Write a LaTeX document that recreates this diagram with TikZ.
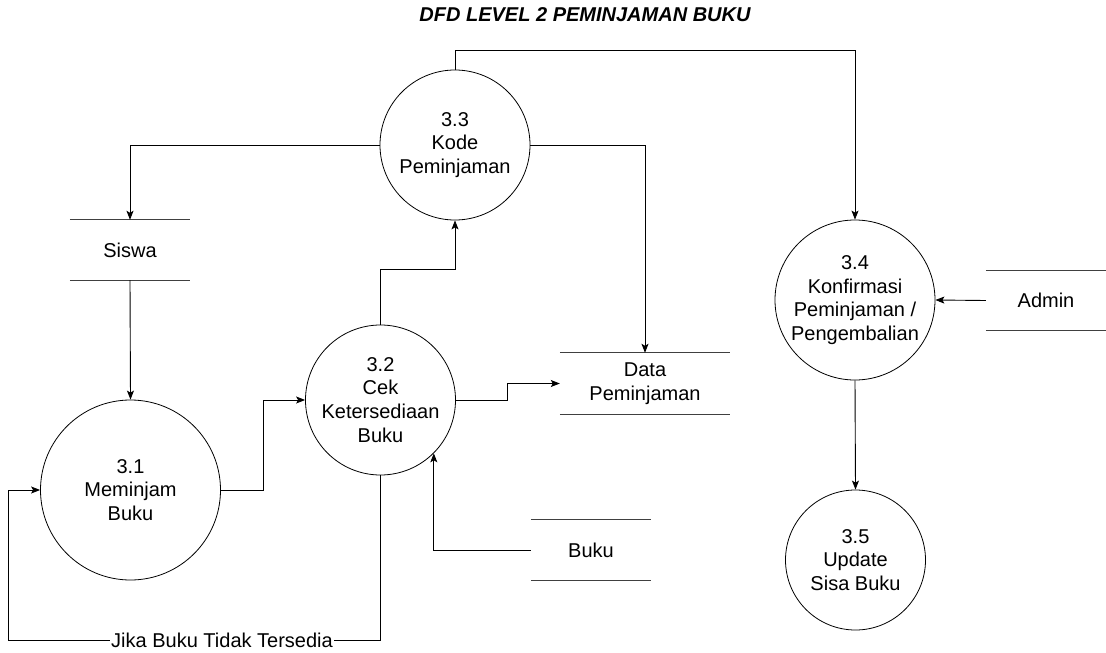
\documentclass[tikz,border=0pt]{standalone}
\usepackage{fontspec}
\setmainfont{Liberation Sans}
\usetikzlibrary{arrows.meta}
\begin{document}
\begin{tikzpicture}[x=1pt,y=-1pt,
  proc/.style={circle,draw=black,line width=0.8pt,inner sep=0pt,align=center,font=\fontsize{20}{23.8}\selectfont},
  store/.style={rectangle,inner sep=0pt,align=center,font=\fontsize{20}{23.8}\selectfont},
  storeline/.style={draw=black!75,line width=1pt},
  flow/.style={line width=0.9pt,-{Stealth[length=9pt,width=7pt,inset=2pt]}},
  lbl/.style={fill=white,inner sep=1pt,font=\fontsize{20}{23.8}\selectfont},
  ttl/.style={font=\fontsize{20}{24}\selectfont\bfseries\itshape}]
\useasboundingbox (0,0) rectangle (1106,653);

\node[ttl] (title) at (585,15) {DFD LEVEL 2 PEMINJAMAN BUKU};

\node[proc,minimum size=150pt] (p33) at (455,145) {3.3\\Kode\\Peminjaman};
\node[proc,minimum size=150pt] (p32) at (380.5,400) {3.2\\Cek\\Ketersediaan\\Buku};
\node[proc,minimum size=180pt] (p31) at (130.5,490) {3.1\\Meminjam\\Buku};
\node[proc,minimum size=160pt] (p34) at (855,300) {3.4\\Konfirmasi\\Peminjaman /\\Pengembalian};
\node[proc,minimum size=140pt] (p35) at (855.5,560) {3.5\\Update\\Sisa Buku};

\node[store,minimum width=120pt,minimum height=60pt] (siswa) at (130,250) {Siswa};
\node[store,minimum width=170pt,minimum height=61pt] (dp) at (645,383.5) {Data\\Peminjaman};
\node[store,minimum width=120pt,minimum height=60pt] (buku) at (591,550) {Buku};
\node[store,minimum width=120pt,minimum height=60pt] (admin) at (1046,300.5) {Admin};

\foreach \s in {siswa,dp,buku,admin}{
  \draw[storeline] (\s.north west) -- (\s.north east);
  \draw[storeline] (\s.south west) -- (\s.south east);
}

\coordinate (c33top) at (455,50);
\coordinate (lp) at (8,640);

\draw[flow] (p33.north) -- (c33top) -| (p34.north);
\draw[flow] (p33.west) -| (siswa.north);
\draw[flow] (p33.east) -| (dp.north);
\draw[flow] (siswa.south) -- (p31.north);
\draw[flow] (p31.east) -- ++(43,0) |- (p32.west);
\draw[flow] (p32.north) -- ++(0,-55) -| (p33.south);
\draw[flow] (p32.east) -- ++(52,0) |- (dp.west);
\draw[flow] (buku.west) -| (p32.-45);
\draw[flow] (p32.south) |- (lp) |- (p31.west);
\node[lbl] (jika) at (222,640) {Jika Buku Tidak Tersedia};
\draw[flow] (admin.west) -- (p34.east);
\draw[flow] (p34.south) -- (p35.north);
\end{tikzpicture}
\end{document}
